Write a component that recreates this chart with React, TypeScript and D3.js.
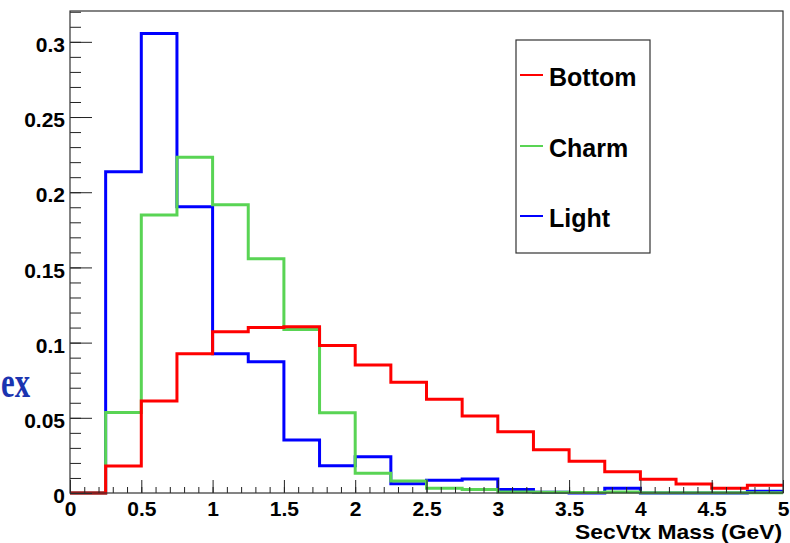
import React, { useEffect, useRef } from 'react';
import * as d3 from 'd3';

// bin low edges (GeV), width 0.25
const binLow = [0, 0.25, 0.5, 0.75, 1, 1.25, 1.5, 1.75, 2, 2.25, 2.5, 2.75, 3, 3.25, 3.5, 3.75, 4, 4.25, 4.5, 4.75];
const binHigh = 5;

const bottom = [0, 0.018, 0.0612, 0.0926, 0.1073, 0.110, 0.1106, 0.098, 0.0851, 0.0736, 0.0623, 0.0512, 0.0408, 0.0288, 0.0211, 0.0142, 0.0091, 0.006, 0.0031, 0.0051];
const charm = [0, 0.0536, 0.1848, 0.2232, 0.1917, 0.1558, 0.1088, 0.0534, 0.0131, 0.008, 0.0031, 0.0024, 0.0007, 0.0005, 0.0003, 0.0007, 0.0002, 0.0002, 0.0002, 0.0002];
const light = [0, 0.2136, 0.3056, 0.1904, 0.0926, 0.0873, 0.0352, 0.0182, 0.0241, 0.0062, 0.0084, 0.0093, 0.0024, 0.0005, 0, 0.0031, 0, 0, 0, 0.0011];

const yTicks = [0, 0.05, 0.1, 0.15, 0.2, 0.25, 0.3];
const xTicks = [0, 0.5, 1, 1.5, 2, 2.5, 3, 3.5, 4, 4.5, 5];

const series = [
  { name: 'Light', values: light, color: '#0000ff' },
  { name: 'Charm', values: charm, color: '#59d454' },
  { name: 'Bottom', values: bottom, color: '#ff0000' },
];
const legendOrder = ['Bottom', 'Charm', 'Light'];

const FONT = '"Liberation Sans", Arial, Helvetica, sans-serif';

export default function App() {
  const ref = useRef<SVGSVGElement>(null);

  useEffect(() => {
    const svg = d3.select(ref.current);
    svg.selectAll('*').remove();

    const left = 70, right = 783, top = 11, bot = 493;
    const x = d3.scaleLinear().domain([0, 5]).range([left, right]);
    const y = d3.scaleLinear().domain([0, 0.3205]).range([bot, top]);

    // stray slide text on the left
    svg.append('text')
      .attr('x', 1).attr('y', 397)
      .attr('font-family', '"Liberation Serif", "Times New Roman", serif')
      .attr('font-size', 44)
      .attr('font-weight', 'bold')
      .attr('textLength', 29).attr('lengthAdjust', 'spacingAndGlyphs')
      .attr('fill', '#1b34b0')
      .text('ex');

    // histograms
    const line = d3.line<[number, number]>()
      .x(d => x(d[0]))
      .y(d => y(d[1]))
      .curve(d3.curveStepAfter);

    series.forEach(s => {
      const pts: [number, number][] = binLow.map((b, i) => [b, s.values[i]]);
      pts.push([binHigh, s.values[s.values.length - 1]]);
      svg.append('path')
        .attr('fill', 'none')
        .attr('stroke', s.color)
        .attr('stroke-width', 3)
        .attr('d', line(pts));
    });

    // y axis, minor ticks then major
    const yMinor = d3.range(0, 0.3205, 0.01);
    svg.append('g')
      .attr('transform', `translate(${left},0)`)
      .call(d3.axisLeft(y).tickValues(yMinor).tickSize(-11).tickSizeOuter(0).tickFormat(() => ''))
      .call(g => g.select('.domain').remove())
      .call(g => g.selectAll('line').attr('stroke', '#222'));

    svg.append('g')
      .attr('transform', `translate(${left},0)`)
      .call(d3.axisLeft(y).tickValues(yTicks).tickSize(-22).tickSizeOuter(0).tickPadding(5)
        .tickFormat(d => d3.format('')(+d)))
      .call(g => g.select('.domain').remove())
      .call(g => g.selectAll('line').attr('stroke', '#222'))
      .call(g => g.selectAll('text')
        .attr('font-family', FONT).attr('font-size', 21).attr('font-weight', 'bold')
        .attr('fill', '#000').attr('dy', '0.46em'));

    // x axis
    const xMinor = d3.range(0, 5.001, 0.1);
    svg.append('g')
      .attr('transform', `translate(0,${bot})`)
      .call(d3.axisBottom(x).tickValues(xMinor).tickSize(-6).tickSizeOuter(0).tickFormat(() => ''))
      .call(g => g.select('.domain').remove())
      .call(g => g.selectAll('line').attr('stroke', '#222'));

    svg.append('g')
      .attr('transform', `translate(0,${bot})`)
      .call(d3.axisBottom(x).tickValues(xTicks).tickSize(-13).tickSizeOuter(0).tickPadding(8)
        .tickFormat(d => d3.format('')(+d)))
      .call(g => g.select('.domain').remove())
      .call(g => g.selectAll('line').attr('stroke', '#222'))
      .call(g => g.selectAll('text')
        .attr('font-family', FONT).attr('font-size', 21).attr('font-weight', 'bold')
        .attr('fill', '#000'));

    // frame
    svg.append('rect')
      .attr('x', left).attr('y', top)
      .attr('width', right - left).attr('height', bot - top)
      .attr('fill', 'none')
      .attr('stroke', '#333')
      .attr('stroke-width', 1.2);

    // x title
    svg.append('text')
      .attr('x', 782).attr('y', 539)
      .attr('text-anchor', 'end')
      .attr('font-family', FONT).attr('font-size', 21).attr('font-weight', 'bold')
      .attr('textLength', 207).attr('lengthAdjust', 'spacingAndGlyphs')
      .text('SecVtx Mass (GeV)');

    // legend
    const lg = svg.append('g');
    lg.append('rect')
      .attr('x', 516).attr('y', 40).attr('width', 134).attr('height', 213)
      .attr('fill', '#fff').attr('stroke', '#333').attr('stroke-width', 1.2);
    const rows = [75, 146, 216];
    legendOrder.forEach((name, i) => {
      const s = series.find(d => d.name === name)!;
      lg.append('line')
        .attr('x1', 520).attr('x2', 543)
        .attr('y1', rows[i]).attr('y2', rows[i])
        .attr('stroke', s.color).attr('stroke-width', 2);
      lg.append('text')
        .attr('x', 549).attr('y', rows[i] + 11)
        .attr('font-family', FONT).attr('font-size', 25).attr('font-weight', 'bold')
        .text(name);
    });
  }, []);

  return (
    <svg ref={ref} width={790} height={543}
      style={{ position: 'absolute', left: 0, top: 0, background: '#fff' }} />
  );
}
